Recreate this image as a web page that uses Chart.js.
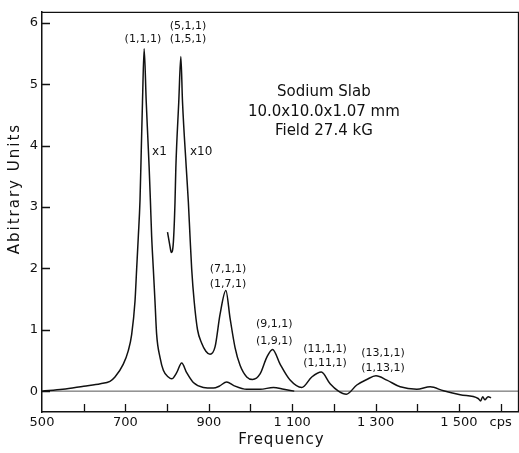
<!DOCTYPE html>
<html>
<head>
<meta charset="utf-8">
<title>Sodium Slab</title>
<script src="https://cdn.jsdelivr.net/npm/chart.js@4.4.1/dist/chart.umd.min.js"></script>
<style>
  html, body { margin: 0; padding: 0; background: #fff; }
  #wrap { width: 519px; height: 453px; }
</style>
</head>
<body>
<div id="wrap"><canvas id="chart"></canvas></div>
<script>
/* Sodium slab spectrum: x1 trace and x10 trace */

// x1 trace
const freqX1 = [500, 550, 600, 640, 663, 675, 695, 707, 715, 723, 727, 731, 735, 738, 741, 745,
  750, 754, 757, 760, 763, 767, 771, 775, 783, 791, 803, 811, 823, 835, 847, 863, 887, 911,
  925, 943, 960, 991, 1023, 1055, 1080, 1105];
const valX1 = [0, 0.03, 0.08, 0.12, 0.16, 0.23, 0.44, 0.66, 0.92, 1.46, 1.99, 2.52, 3.1, 3.9, 4.71, 5.58,
  4.71, 4.1, 3.64, 3.1, 2.52, 1.99, 1.46, 0.92, 0.55, 0.34, 0.23, 0.2, 0.3, 0.46, 0.3, 0.14, 0.06, 0.05,
  0.08, 0.15, 0.09, 0.03, 0.03, 0.06, 0.03, 0];

// x10 trace
const freqX10 = [801, 807, 810, 815, 819, 821, 828, 833, 837, 846, 851, 855, 859, 865, 873, 883, 893,
  903, 915, 927, 941, 951, 963, 975, 991, 1005, 1023, 1039, 1053, 1071, 1095, 1123, 1147, 1170, 1191,
  1211, 1230, 1255, 1279, 1301, 1327, 1359, 1399, 1431, 1463, 1503, 1546, 1552, 1557, 1562, 1570, 1577];
const valX10 = [2.59, 2.36, 2.26, 2.42, 3.08, 3.64, 4.71, 5.45, 4.71, 3.64, 3.08, 2.52, 1.99, 1.46, 1.0,
  0.78, 0.65, 0.6, 0.72, 1.25, 1.64, 1.19, 0.71, 0.42, 0.23, 0.19, 0.28, 0.55, 0.68, 0.44, 0.18, 0.06,
  0.23, 0.31, 0.12, 0, -0.05, 0.1, 0.19, 0.25, 0.18, 0.07, 0.03, 0.07, 0.005, -0.06, -0.12, -0.16,
  -0.09, -0.14, -0.09, -0.11];

// axes
const xRange = [500, 1644];
const yRange = [-0.34, 6.18];
const xTickValues = [500, 600, 700, 800, 900, 1000, 1100, 1200, 1300, 1400, 1500, 1600];
const xTickLabels = ['500', '', '700', '', '900', '', '1 100', '', '1 300', '', '1 500', 'cps'];
const yTickValues = [0, 1, 2, 3, 4, 5, 6];
const yTickLabels = ['0', '1', '2', '3', '4', '5', '6'];

// labels on the plot, placed in data units
const notes = [
  { t: '(1,1,1)', x: 742, y: 5.73, size: 11 },
  { t: '(5,1,1)', x: 850, y: 5.94, size: 11 },
  { t: '(1,5,1)', x: 850, y: 5.73, size: 11 },
  { t: 'x1', x: 764, y: 3.9, size: 12, align: 'left' },
  { t: 'x10', x: 855, y: 3.9, size: 12, align: 'left' },
  { t: 'Sodium Slab', x: 1176, y: 4.87, size: 15 },
  { t: '10.0x10.0x1.07 mm', x: 1176, y: 4.55, size: 15 },
  { t: 'Field 27.4 kG', x: 1176, y: 4.24, size: 15 },
  { t: '(7,1,1)', x: 946, y: 1.99, size: 11 },
  { t: '(1,7,1)', x: 946, y: 1.74, size: 11 },
  { t: '(9,1,1)', x: 1057, y: 1.09, size: 11 },
  { t: '(1,9,1)', x: 1057, y: 0.82, size: 11 },
  { t: '(11,1,1)', x: 1179, y: 0.69, size: 11 },
  { t: '(1,11,1)', x: 1179, y: 0.45, size: 11 },
  { t: '(13,1,1)', x: 1318, y: 0.62, size: 11 },
  { t: '(1,13,1)', x: 1318, y: 0.37, size: 11 }
];

const FONT = "'DejaVu Sans', sans-serif";
const INK = '#111';

const toPoints = (xs, ys) => xs.map((x, i) => ({ x, y: ys[i] }));

// ticks point inward, plus top/right frame, notes and axis titles
const decor = {
  id: 'decor',
  afterDraw(chart) {
    const { ctx, chartArea: a, scales: { x, y } } = chart;
    ctx.save();
    ctx.strokeStyle = INK;
    ctx.lineWidth = 1.3;
    ctx.beginPath();
    xTickValues.forEach(v => {
      if (v === xRange[0]) return;
      const px = Math.round(x.getPixelForValue(v)) + 0.5;
      ctx.moveTo(px, a.bottom);
      ctx.lineTo(px, a.bottom - 8);
    });
    yTickValues.forEach(v => {
      const py = Math.round(y.getPixelForValue(v)) + 0.5;
      ctx.moveTo(a.left, py);
      ctx.lineTo(a.left + 8, py);
    });
    // top and right edges of the frame
    ctx.moveTo(a.left, a.top + 0.5);
    ctx.lineTo(a.right, a.top + 0.5);
    ctx.moveTo(a.right - 0.5, a.top);
    ctx.lineTo(a.right - 0.5, a.bottom);
    ctx.stroke();

    ctx.fillStyle = INK;
    ctx.textBaseline = 'middle';
    notes.forEach(n => {
      ctx.font = `${n.size}px ${FONT}`;
      ctx.textAlign = n.align || 'center';
      ctx.fillText(n.t, x.getPixelForValue(n.x), y.getPixelForValue(n.y));
    });

    // axis titles
    ctx.font = `15px ${FONT}`;
    ctx.textAlign = 'center';
    ctx.letterSpacing = '1px';
    ctx.fillText('Frequency', (a.left + a.right) / 2 + 1, 440);
    ctx.translate(15, y.getPixelForValue(3.3));
    ctx.rotate(-Math.PI / 2);
    ctx.letterSpacing = '2px';
    ctx.fillText('Abitrary Units', 0, 0);
    ctx.restore();
  }
};

new Chart(document.getElementById('chart'), {
  type: 'line',
  data: {
    datasets: [
      {
        label: 'x1',
        data: toPoints(freqX1, valX1),
        borderColor: INK,
        borderWidth: 1.5,
        pointRadius: 0,
        cubicInterpolationMode: 'monotone'
      },
      {
        label: 'x10',
        data: toPoints(freqX10, valX10),
        borderColor: INK,
        borderWidth: 1.5,
        pointRadius: 0,
        cubicInterpolationMode: 'monotone'
      },
      {
        label: 'baseline',
        data: toPoints(xRange, [0, 0]),
        borderColor: '#555',
        borderWidth: 1,
        pointRadius: 0
      }
    ]
  },
  options: {
    responsive: true,
    maintainAspectRatio: false,
    animation: false,
    events: [],
    layout: { padding: { top: 5, right: 0, left: 0, bottom: 0 } },
    plugins: {
      legend: { display: false },
      tooltip: { enabled: false }
    },
    scales: {
      x: {
        type: 'linear',
        min: xRange[0],
        max: xRange[1],
        afterBuildTicks: (s) => { s.ticks = xTickValues.map(v => ({ value: v })); },
        afterFit: (s) => { s.height = 41; },
        grid: { display: false, drawTicks: false },
        border: { display: true, color: INK, width: 1.5 },
        ticks: {
          autoSkip: false,
          maxRotation: 0,
          padding: 3,
          color: INK,
          font: { family: FONT, size: 13 },
          callback: (v, i) => xTickLabels[i]
        }
      },
      y: {
        type: 'linear',
        min: yRange[0],
        max: yRange[1],
        afterBuildTicks: (s) => { s.ticks = yTickValues.map(v => ({ value: v })); },
        afterFit: (s) => { s.width = 42; },
        grid: { display: false, drawTicks: false },
        border: { display: true, color: INK, width: 1.5 },
        ticks: {
          padding: 4,
          color: INK,
          font: { family: FONT, size: 13 },
          callback: (v, i) => yTickLabels[i]
        }
      }
    }
  },
  plugins: [decor]
});
</script>
</body>
</html>
